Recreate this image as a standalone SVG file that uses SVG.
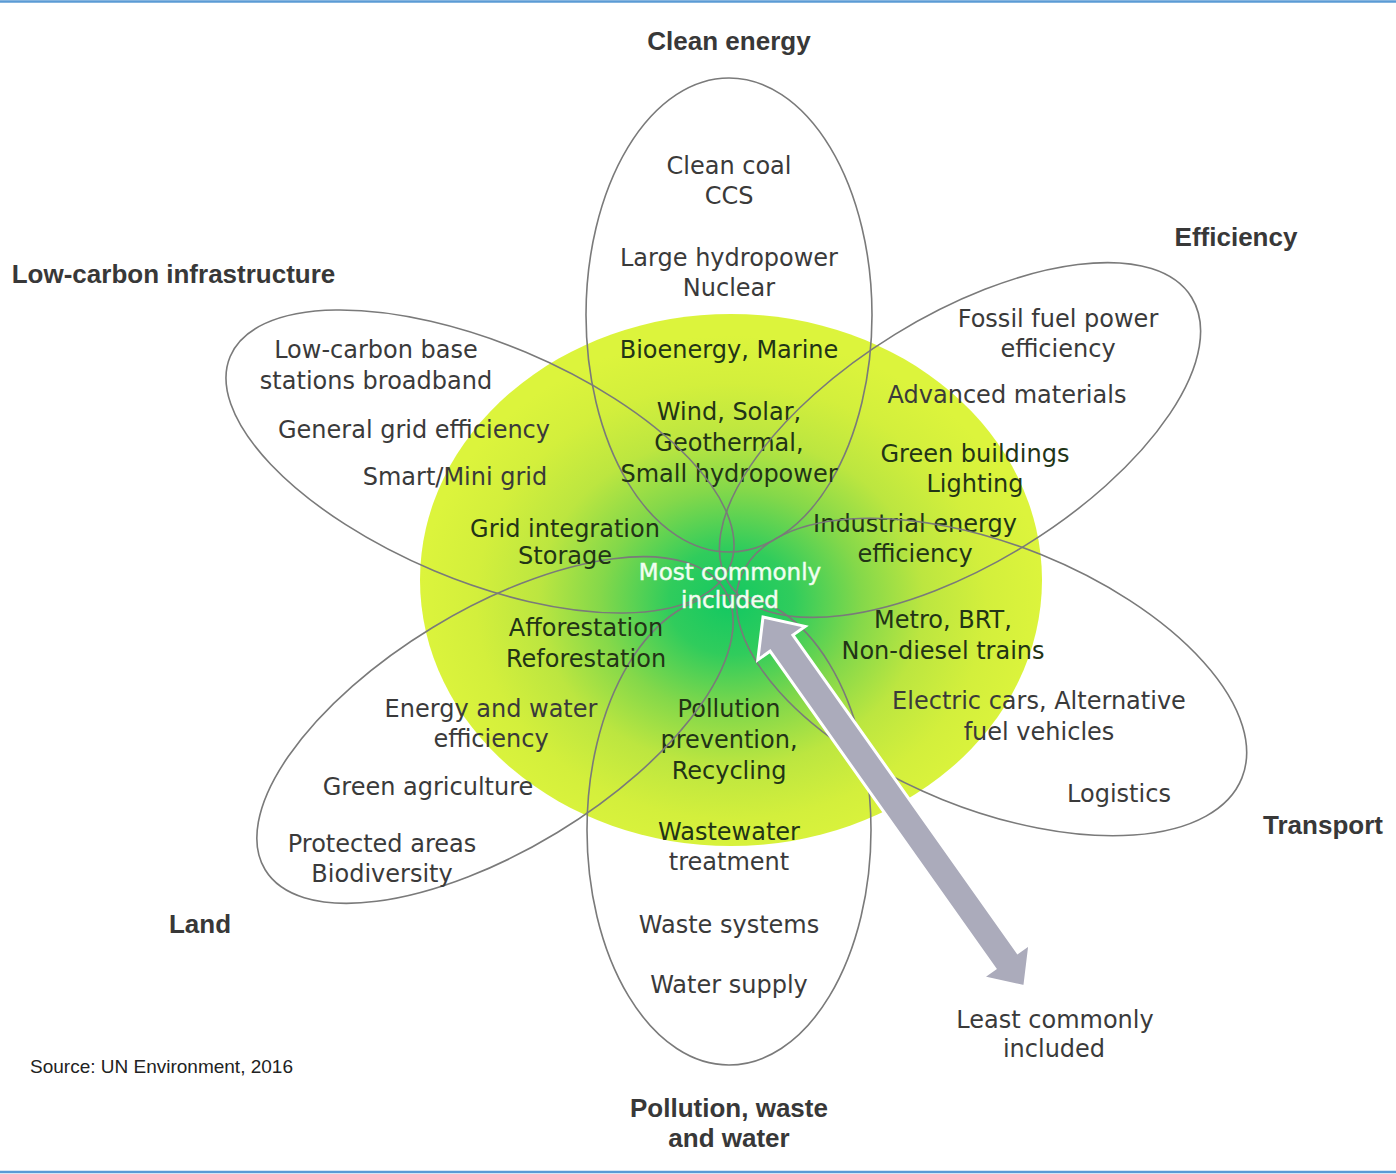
<svg xmlns="http://www.w3.org/2000/svg" width="1396" height="1174" viewBox="0 0 1396 1174">
  <defs>
    <radialGradient id="hubFill" cx="0.5" cy="0.54" r="0.5" fx="0.5" fy="0.54">
      <stop offset="0" stop-color="#12c862"/>
      <stop offset="0.2" stop-color="#30cc5c"/>
      <stop offset="0.42" stop-color="#84d84a"/>
      <stop offset="0.62" stop-color="#bce640"/>
      <stop offset="0.82" stop-color="#d3ef3c"/>
      <stop offset="1" stop-color="#dcf43c"/>
    </radialGradient>
  </defs>
  <style>
    .petal { fill: none; stroke: #7a7a7a; stroke-width: 1.6; }
    .item { font-family: "DejaVu Sans", "Liberation Sans", sans-serif; font-size: 24px; fill: #3a3a3a; text-anchor: middle; }
    .item.on { fill: #223416; }
    .head { font-family: "Liberation Sans", Arial, sans-serif; font-weight: bold; font-size: 26px; fill: #383838; text-anchor: middle; }
    .core { font-family: "DejaVu Sans", "Liberation Sans", sans-serif; font-size: 23px; fill: #f4fff4; stroke: #e8fbe8; stroke-width: 0.5; text-anchor: middle; }
    .note { font-family: "Liberation Sans", Arial, sans-serif; font-size: 19px; fill: #222; }
    .rule { stroke: #5b9bd5; stroke-width: 2.5; }
    .scale { fill: #ababbb; stroke: #ffffff; stroke-width: 3; stroke-linejoin: miter; }
  </style>

  <rect width="1396" height="1174" fill="#ffffff"/>
  <line class="rule" x1="0" y1="1.5" x2="1396" y2="1.5"/>
  <line class="rule" x1="0" y1="1172" x2="1396" y2="1172"/>

  <!-- shaded core -->
  <ellipse id="hub" cx="731" cy="580" rx="311" ry="266" fill="url(#hubFill)"/>

  <!-- Clean energy -->
  <g id="petal-clean-energy">
    <ellipse class="petal" cx="729" cy="315" rx="143" ry="237"/>
    <text class="head" x="729" y="50">Clean energy</text>
    <text class="item" x="729" y="174">Clean coal</text>
    <text class="item" x="729" y="204">CCS</text>
    <text class="item" x="729" y="266">Large hydropower</text>
    <text class="item" x="729" y="296">Nuclear</text>
    <text class="item on" x="729" y="358">Bioenergy, Marine</text>
    <text class="item on" x="729" y="420">Wind, Solar,</text>
    <text class="item on" x="729" y="451">Geothermal,</text>
    <text class="item on" x="729" y="482">Small hydropower</text>
  </g>

  <!-- Efficiency -->
  <g id="petal-efficiency">
    <ellipse class="petal" cx="0" cy="0" rx="272" ry="124" transform="translate(960 440) rotate(-31.6)"/>
    <text class="head" x="1236" y="246">Efficiency</text>
    <text class="item" x="1058" y="327">Fossil fuel power</text>
    <text class="item" x="1058" y="357">efficiency</text>
    <text class="item" x="1007" y="403">Advanced materials</text>
    <text class="item on" x="975" y="462">Green buildings</text>
    <text class="item on" x="975" y="492">Lighting</text>
    <text class="item on" x="915" y="532">Industrial energy</text>
    <text class="item on" x="915" y="562">efficiency</text>
  </g>

  <!-- Transport -->
  <g id="petal-transport">
    <ellipse class="petal" cx="0" cy="0" rx="270" ry="132" transform="translate(991.5 677) rotate(22)"/>
    <text class="head" x="1323" y="834">Transport</text>
    <text class="item on" x="943" y="628">Metro, BRT,</text>
    <text class="item on" x="943" y="659">Non-diesel trains</text>
    <text class="item" x="1039" y="709">Electric cars, Alternative</text>
    <text class="item" x="1039" y="740">fuel vehicles</text>
    <text class="item" x="1119" y="802">Logistics</text>
  </g>

  <!-- Pollution, waste and water -->
  <g id="petal-pollution">
    <ellipse class="petal" cx="729" cy="830" rx="142" ry="235"/>
    <text class="head" x="729" y="1117">Pollution, waste</text>
    <text class="head" x="729" y="1147">and water</text>
    <text class="item on" x="729" y="717">Pollution</text>
    <text class="item on" x="729" y="748">prevention,</text>
    <text class="item on" x="729" y="779">Recycling</text>
    <text class="item on" x="729" y="840">Wastewater</text>
    <text class="item" x="729" y="870">treatment</text>
    <text class="item" x="729" y="933">Waste systems</text>
    <text class="item" x="729" y="993">Water supply</text>
  </g>

  <!-- Land -->
  <g id="petal-land">
    <ellipse class="petal" cx="0" cy="0" rx="269" ry="120" transform="translate(495 730) rotate(-31.3)"/>
    <text class="head" x="200" y="933">Land</text>
    <text class="item on" x="586" y="636">Afforestation</text>
    <text class="item on" x="586" y="667">Reforestation</text>
    <text class="item" x="491" y="717">Energy and water</text>
    <text class="item" x="491" y="747">efficiency</text>
    <text class="item" x="428" y="795">Green agriculture</text>
    <text class="item" x="382" y="852">Protected areas</text>
    <text class="item" x="382" y="882">Biodiversity</text>
  </g>

  <!-- Low-carbon infrastructure -->
  <g id="petal-infrastructure">
    <ellipse class="petal" cx="0" cy="0" rx="271" ry="118.5" transform="translate(480 461.5) rotate(22.8)"/>
    <text class="head" x="173.5" y="283">Low-carbon infrastructure</text>
    <text class="item" x="376" y="358">Low-carbon base</text>
    <text class="item" x="376" y="389">stations broadband</text>
    <text class="item" x="414" y="438">General grid efficiency</text>
    <text class="item" x="455" y="485">Smart/Mini grid</text>
    <text class="item on" x="565" y="537">Grid integration</text>
    <text class="item on" x="565" y="564">Storage</text>
  </g>

  <!-- centre label -->
  <g id="core-label">
    <text class="core" x="730" y="580">Most commonly</text>
    <text class="core" x="730" y="608">included</text>
  </g>

  <!-- inclusion scale: double-headed arrow -->
  <g id="connectors">
    <polygon class="scale" transform="translate(763 617) rotate(54.7)"
             points="0,0 32,-29 32,-14 421,-14 421,-29 453,0 421,29 421,14 32,14 32,29"/>
  </g>

  <g id="scale-end-label">
    <text class="item" x="1055" y="1028">Least commonly</text>
    <text class="item" x="1054" y="1057">included</text>
  </g>

  <text class="note" x="30" y="1073">Source: UN Environment, 2016</text>
</svg>
